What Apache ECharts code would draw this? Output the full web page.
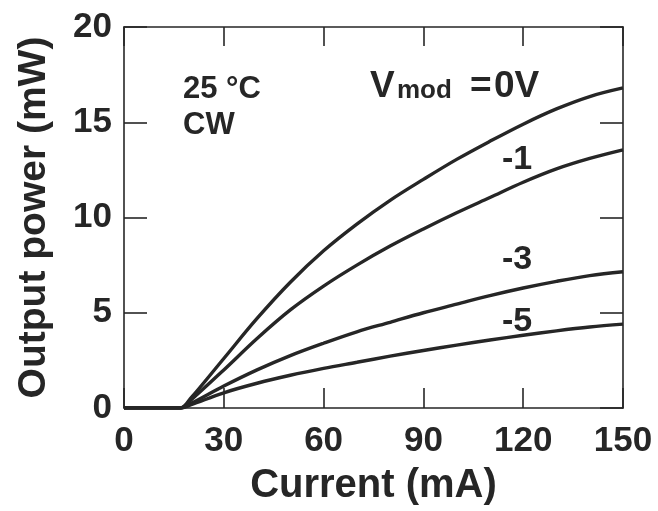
<!DOCTYPE html>
<html>
<head>
<meta charset="utf-8">
<script src="https://cdn.jsdelivr.net/npm/echarts@6/dist/echarts.min.js"></script>
<style>html,body{margin:0;padding:0;background:#fff;}#c{width:658px;height:511px;}</style>
</head>
<body>
<div id="c"></div>
<script>
const current = [0, 10, 17, 20, 30, 40, 50, 60, 70, 80, 90, 100, 110, 120, 130, 140, 150];
const p0V  = [0, 0, 0, 0.5, 2.6, 4.7, 6.6, 8.25, 9.65, 10.9, 12.0, 13.05, 14.0, 14.9, 15.7, 16.35, 16.8];
const p1V  = [0, 0, 0, 0.4, 2.0, 3.65, 5.15, 6.4, 7.5, 8.5, 9.4, 10.25, 11.05, 11.85, 12.55, 13.1, 13.55];
const p3V  = [0, 0, 0, 0.22, 1.15, 2.0, 2.75, 3.4, 4.0, 4.5, 5.0, 5.45, 5.9, 6.3, 6.65, 6.95, 7.15];
const p5V  = [0, 0, 0, 0.16, 0.8, 1.3, 1.72, 2.08, 2.4, 2.72, 3.02, 3.3, 3.57, 3.82, 4.05, 4.25, 4.4];
const seriesNames = ['0V', '-1', '-3', '-5'];
const xTicks = [0, 30, 60, 90, 120, 150];
const yTicks = [0, 5, 10, 15, 20];

const FONT = '"Liberation Sans", Arial, Helvetica, sans-serif';
const INK = '#262626';
const pair = arr => current.map((x, i) => [x, arr[i]]);
const allSeries = [p0V, p1V, p3V, p5V].map((arr, i) => ({
  name: seriesNames[i], type: 'line', data: pair(arr), xAxisIndex: 0, yAxisIndex: 0,
  smooth: 0.35, showSymbol: false,
  lineStyle: { color: INK, width: 3.4 }, z: 3
}));

const axisLine = { show: true, onZero: false, lineStyle: { color: INK, width: 1.6 } };
const chart = echarts.init(document.getElementById('c'), null, { renderer: 'canvas' });
chart.setOption({
  animation: false,
  backgroundColor: '#fff',
  grid: { left: 124, top: 27, width: 499, height: 384 },
  xAxis: [
    { type: 'value', position: 'bottom', min: xTicks[0], max: xTicks[xTicks.length - 1], interval: 30,
      axisLine, axisTick: { inside: true, length: 20, lineStyle: { color: INK, width: 1.6 } },
      splitLine: { show: false },
      axisLabel: { margin: 16, fontSize: 35, fontWeight: 'bold', color: INK, fontFamily: FONT },
      name: 'Current (mA)', nameLocation: 'middle', nameGap: 58,
      nameTextStyle: { fontSize: 40, fontWeight: 'bold', color: INK, fontFamily: FONT } },
    { type: 'value', position: 'top', min: xTicks[0], max: xTicks[xTicks.length - 1], interval: 30,
      axisLine, axisTick: { inside: true, length: 19, lineStyle: { color: INK, width: 1.6 } },
      axisLabel: { show: false }, splitLine: { show: false } }
  ],
  yAxis: [
    { type: 'value', position: 'left', min: yTicks[0], max: yTicks[yTicks.length - 1], interval: 5,
      axisLine, axisTick: { inside: true, length: 23, lineStyle: { color: INK, width: 1.6 } },
      splitLine: { show: false },
      axisLabel: { margin: 12, fontSize: 35, fontWeight: 'bold', color: INK, fontFamily: FONT },
      name: 'Output power (mW)', nameLocation: 'middle', nameGap: 70,
      nameTextStyle: { fontSize: 39, fontWeight: 'bold', color: INK, fontFamily: FONT } },
    { type: 'value', position: 'right', min: yTicks[0], max: yTicks[yTicks.length - 1], interval: 5,
      axisLine, axisTick: { inside: true, length: 23, lineStyle: { color: INK, width: 1.6 } },
      axisLabel: { show: false }, splitLine: { show: false } }
  ],
  series: allSeries,
  graphic: [
    { type: 'text', left: 183, top: 74, style: { text: '25 °C', font: 'bold 31px ' + FONT, fill: INK } },
    { type: 'text', left: 183, top: 110, style: { text: 'CW', font: 'bold 31px ' + FONT, fill: INK } },
    { type: 'text', left: 370, top: 68, style: { text: 'V', font: 'bold 37px ' + FONT, fill: INK } },
    { type: 'text', left: 397, top: 78, style: { text: 'mod', font: 'bold 26px ' + FONT, fill: INK } },
    { type: 'text', left: 470, top: 68, style: { text: '=', font: 'bold 37px ' + FONT, fill: INK } },
    { type: 'text', left: 494, top: 68, style: { text: '0V', font: 'bold 37px ' + FONT, fill: INK } },
    { type: 'text', left: 502, top: 143, style: { text: '-1', font: 'bold 34px ' + FONT, fill: INK } },
    { type: 'text', left: 502, top: 243, style: { text: '-3', font: 'bold 34px ' + FONT, fill: INK } },
    { type: 'text', left: 502, top: 305, style: { text: '-5', font: 'bold 34px ' + FONT, fill: INK } }
  ]
});
</script>
</body>
</html>
